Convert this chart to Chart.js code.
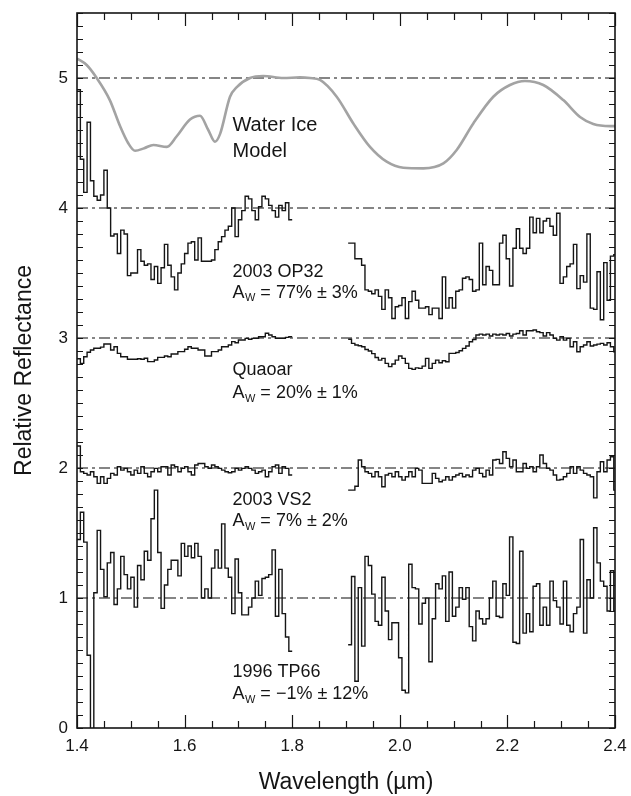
<!DOCTYPE html>
<html>
<head>
<meta charset="utf-8">
<script src="https://cdn.jsdelivr.net/npm/chart.js@4.4.1/dist/chart.umd.min.js"></script>
<style>
  html, body { margin: 0; padding: 0; background: #fff; }
</style>
</head>
<body>
<canvas id="spectra" width="631" height="796"></canvas>
<script>
// axis ticks
const xTickLabels = [1.4, 1.6, 1.8, 2.0, 2.2, 2.4];
const yTickLabels = [0, 1, 2, 3, 4, 5];
const continuumLevels = [1, 2, 3, 4, 5];

// spectra are binned at a fixed step; H band starts at 1.4, K band at 1.904
const BIN = 0.00625;
const H_START = 1.4;
const K_START = 1.904;

// water ice model (offset to 5)
const iceModelX = [1.4, 1.418, 1.4366, 1.461, 1.48, 1.495, 1.508, 1.525, 1.542, 1.567, 1.585, 1.61, 1.6286, 1.644, 1.6565, 1.666, 1.6844, 1.697, 1.7216, 1.746, 1.7835, 1.8145, 1.833, 1.8517, 1.8827, 1.9136, 1.9446, 1.9756, 2.0066, 2.0437, 2.081, 2.1057, 2.1366, 2.1738, 2.2048, 2.2327, 2.2667, 2.3039, 2.335, 2.3597, 2.3907, 2.4];
const iceModelY = [5.15, 5.10, 5.0, 4.83, 4.63, 4.50, 4.44, 4.46, 4.485, 4.47, 4.55, 4.68, 4.71, 4.60, 4.51, 4.57, 4.856, 4.93, 5.0, 5.015, 5.0, 5.005, 5.0, 4.985, 4.856, 4.65, 4.47, 4.356, 4.31, 4.305, 4.343, 4.446, 4.65, 4.856, 4.946, 4.977, 4.946, 4.83, 4.70, 4.646, 4.63, 4.63];

// 2003 OP32 (offset to 4)
const op32H = [
  4.91, 4.375, 4.12, 4.66, 4.21, 4.09, 4.06, 4.10, 4.29, 4.00,
  3.785, 3.80, 3.65, 3.83, 3.80, 3.48, 3.50, 3.50, 3.68, 3.59,
  3.56, 3.57, 3.45, 3.55, 3.42, 3.54, 3.72, 3.56, 3.47, 3.37,
  3.50, 3.57, 3.65, 3.73, 3.74, 3.60, 3.77, 3.59, 3.59, 3.59,
  3.60, 3.68, 3.74, 3.78, 3.83, 3.86, 4.00, 3.78, 3.91, 3.98,
  4.09, 4.07, 3.98, 3.91, 4.01, 4.09, 4.07, 4.02, 3.98, 3.93,
  4.02, 3.98, 4.04, 3.91
];
const op32K = [
  3.73, 3.73, 3.61, 3.61, 3.56, 3.37, 3.36, 3.34, 3.37, 3.32,
  3.22, 3.37, 3.31, 3.15, 3.24, 3.25, 3.31, 3.15, 3.28, 3.36,
  3.29, 3.23, 3.23, 3.24, 3.18, 3.23, 3.23, 3.15, 3.47, 3.23,
  3.31, 3.23, 3.36, 3.37, 3.46, 3.47, 3.45, 3.36, 3.37, 3.73,
  3.41, 3.55, 3.52, 3.41, 3.41, 3.73, 3.79, 3.61, 3.40, 3.69,
  3.84, 3.69, 3.65, 3.69, 3.93, 3.81, 3.92, 3.81, 3.90, 3.92,
  3.86, 3.79, 3.96, 3.42, 3.47, 3.55, 3.57, 3.72, 3.38, 3.48,
  3.43, 3.80, 3.23, 3.22, 3.51, 3.14, 3.58, 3.29, 3.63, 3.64
];

// Quaoar (offset to 3)
const quaoarH = [
  2.84, 2.805, 2.856, 2.89, 2.908, 2.921, 2.921, 2.93, 2.954, 2.954,
  2.908, 2.933, 2.882, 2.856, 2.856, 2.836, 2.836, 2.836, 2.84, 2.836,
  2.844, 2.818, 2.818, 2.831, 2.851, 2.851, 2.862, 2.856, 2.877, 2.877,
  2.895, 2.895, 2.913, 2.933, 2.921, 2.921, 2.908, 2.908, 2.862, 2.862,
  2.895, 2.895, 2.908, 2.933, 2.933, 2.946, 2.972, 2.964, 2.985, 2.985,
  2.997, 2.99, 2.997, 2.997, 3.01, 3.01, 3.036, 3.023, 3.01, 2.997,
  2.997, 2.997, 3.005, 3.01
];
const quaoarK = [
  2.99, 2.959, 2.946, 2.94, 2.933, 2.912, 2.90, 2.88, 2.85, 2.83,
  2.843, 2.805, 2.78, 2.80, 2.83, 2.861, 2.843, 2.805, 2.766, 2.759,
  2.77, 2.766, 2.784, 2.843, 2.766, 2.805, 2.83, 2.81, 2.825, 2.817,
  2.882, 2.882, 2.889, 2.902, 2.92, 2.938, 2.971, 2.989, 3.023, 3.03,
  3.023, 3.03, 3.015, 3.03, 3.023, 3.03, 3.023, 3.035, 3.015, 3.03,
  3.035, 3.056, 3.023, 3.056, 3.056, 3.061, 3.048, 3.041, 3.015, 3.041,
  3.023, 2.997, 2.984, 3.01, 2.984, 2.997, 2.933, 2.971, 2.894, 2.933,
  2.946, 2.971, 2.938, 2.946, 2.953, 2.959, 2.946, 2.964, 2.933, 2.894
];

// 2003 VS2 (offset to 2)
const vs2H = [
  2.169, 1.971, 1.959, 1.946, 1.971, 1.933, 1.882, 1.933, 1.882, 1.92,
  1.959, 1.946, 2.01, 1.984, 1.997, 1.971, 1.946, 1.984, 1.959, 2.01,
  1.959, 1.933, 1.971, 1.997, 1.971, 2.01, 2.01, 1.946, 2.023, 2.01,
  1.971, 1.997, 2.01, 1.971, 1.946, 2.023, 2.035, 2.035, 2.01, 1.997,
  2.023, 2.01, 1.997, 1.984, 1.971, 1.964, 1.971, 1.997, 1.984, 1.997,
  2.01, 1.997, 1.984, 1.959, 1.971, 1.984, 1.933, 1.971, 2.01, 2.023,
  1.959, 2.01, 1.997, 1.946
];
const vs2K = [
  1.83, 1.83, 1.86, 2.061, 2.01, 1.971, 1.959, 1.933, 1.971, 1.933,
  1.856, 1.946, 1.959, 1.933, 1.971, 1.933, 1.907, 1.933, 1.971, 1.933,
  1.997, 1.984, 1.882, 1.882, 1.882, 1.959, 1.92, 1.894, 1.907, 1.933,
  1.907, 1.933, 1.946, 1.959, 1.933, 1.946, 1.933, 1.984, 1.997, 1.959,
  1.933, 1.984, 1.946, 2.061, 2.066, 2.035, 2.125, 2.074, 2.01, 2.061,
  1.971, 1.971, 2.035, 1.997, 2.01, 1.971, 2.01, 2.1, 2.035, 1.997,
  1.984, 1.946, 1.907, 1.912, 1.933, 1.959, 2.01, 1.959, 2.01, 1.984,
  1.959, 1.946, 1.933, 1.77, 1.971, 2.048, 1.971, 2.061, 2.087, 1.83
];

// 1996 TP66 (offset to 1)
const tp66H = [
  1.45, 1.66, 1.43, 0.56, -0.4, 1.04, 1.52, 1.22, 1.01, 1.27,
  1.35, 0.95, 1.07, 1.32, 1.18, 1.07, 1.16, 0.93, 1.25, 1.14,
  1.36, 1.29, 1.61, 1.83, 1.35, 0.92, 1.10, 1.22, 1.29, 1.29,
  1.17, 1.42, 1.32, 1.40, 1.31, 1.42, 1.32, 1.00, 1.07, 1.00,
  1.23, 1.37, 1.23, 1.57, 1.23, 1.16, 0.88, 1.30, 1.04, 0.87,
  0.87, 0.93, 1.00, 1.13, 1.02, 1.15, 1.16, 1.18, 1.37, 0.86,
  1.22, 0.88, 0.70, 0.59
];
const tp66K = [
  0.64, 1.165, 0.36, 1.08, 0.63, 1.32, 1.25, 1.03, 0.82, 0.79,
  1.16, 0.90, 0.68, 0.81, 0.81, 0.54, 0.29, 0.27, 1.26, 1.08,
  1.07, 0.80, 0.96, 1.00, 0.51, 0.84, 1.11, 1.07, 1.17, 0.82,
  1.20, 0.86, 0.93, 1.08, 0.99, 1.08, 0.78, 0.67, 0.90, 0.84,
  0.80, 0.84, 1.00, 1.13, 0.86, 0.85, 1.11, 1.02, 1.47, 0.66,
  0.65, 1.36, 0.73, 0.88, 0.74, 1.09, 1.11, 0.79, 0.93, 0.79,
  1.13, 0.98, 0.93, 0.80, 1.13, 0.79, 0.74, 0.88, 0.93, 1.45,
  0.73, 1.14, 1.00, 1.54, 1.27, 1.13, 1.09, 0.90, 1.21, 0.90
];

const FONT = "'Liberation Sans', Arial, Helvetica, sans-serif";
const INK = '#151515';

// one point per bin start, plus a closing point at the end of the last bin
function binned(start, values) {
  const pts = values.map((v, i) => ({ x: start + i * BIN, y: v }));
  pts.push({ x: start + values.length * BIN, y: values[values.length - 1] });
  return pts;
}

// H and K bands with a gap between them
function spectrum(h, k) {
  return {
    data: binned(H_START, h).concat([{ x: 1.85, y: null }], binned(K_START, k)),
    borderColor: INK,
    borderWidth: 1.4,
    stepped: true,
    spanGaps: false,
    order: 1
  };
}

const datasets = [];

continuumLevels.forEach(level => {
  datasets.push({
    data: [{ x: 1.4, y: level }, { x: 2.4, y: level }],
    borderColor: '#858585',
    borderWidth: 2,
    borderDash: [11, 4, 3, 4],
    order: 3
  });
});

datasets.push({
  data: iceModelX.map((x, i) => ({ x, y: iceModelY[i] })),
  borderColor: '#a3a3a3',
  borderWidth: 2.6,
  cubicInterpolationMode: 'monotone',
  order: 2
});

datasets.push(spectrum(op32H, op32K));
datasets.push(spectrum(quaoarH, quaoarK));
datasets.push(spectrum(vs2H, vs2K));
datasets.push(spectrum(tp66H, tp66K));

// plot frame with inward ticks on all four sides
const frame = {
  id: 'frame',
  afterDraw(chart) {
    const { ctx, chartArea: a, scales: { x, y } } = chart;
    ctx.save();
    ctx.strokeStyle = INK;
    ctx.lineWidth = 1.2;
    ctx.beginPath();
    for (let k = 0; k <= 20; k++) {
      const px = Math.round(x.getPixelForValue(1.4 + k * 0.05)) + 0.5;
      const len = k % 4 === 0 ? 13 : 7;
      ctx.moveTo(px, a.bottom); ctx.lineTo(px, a.bottom - len);
      ctx.moveTo(px, a.top); ctx.lineTo(px, a.top + len);
    }
    for (let k = 0; k <= 55; k++) {
      const py = Math.round(y.getPixelForValue(k * 0.1)) + 0.5;
      ctx.moveTo(a.left, py); ctx.lineTo(a.left + 6, py);
      ctx.moveTo(a.right, py); ctx.lineTo(a.right - 6, py);
    }
    ctx.stroke();
    ctx.lineWidth = 1.6;
    ctx.strokeRect(a.left, a.top, a.right - a.left, a.bottom - a.top);
    ctx.restore();
  }
};

// object names and water-ice fractions, anchored in data units
const notes = [
  { x: 1.689, y: 4.595, size: 20, text: 'Water Ice' },
  { x: 1.689, y: 4.395, size: 20, text: 'Model' },
  { x: 1.689, y: 3.472, size: 18, text: '2003 OP32' },
  { x: 1.689, y: 3.31, size: 18, albedo: ' = 77% ± 3%' },
  { x: 1.689, y: 2.715, size: 18, text: 'Quaoar' },
  { x: 1.689, y: 2.536, size: 18, albedo: ' = 20% ± 1%' },
  { x: 1.689, y: 1.715, size: 18, text: '2003 VS2' },
  { x: 1.689, y: 1.554, size: 18, albedo: ' = 7% ± 2%' },
  { x: 1.689, y: 0.395, size: 18, text: '1996 TP66' },
  { x: 1.689, y: 0.22, size: 18, albedo: ' = \u22121% ± 12%' }
];

const labels = {
  id: 'labels',
  afterDatasetsDraw(chart) {
    const { ctx, scales: { x, y } } = chart;
    ctx.save();
    ctx.fillStyle = INK;
    ctx.textBaseline = 'alphabetic';
    notes.forEach(n => {
      let px = x.getPixelForValue(n.x);
      const py = y.getPixelForValue(n.y);
      ctx.font = `${n.size}px ${FONT}`;
      if (n.text) {
        ctx.fillText(n.text, px, py);
        return;
      }
      ctx.fillText('A', px, py);
      px += ctx.measureText('A').width + 0.5;
      const sub = Math.round(n.size * 0.62);
      ctx.font = `${sub}px ${FONT}`;
      ctx.fillText('W', px, py + n.size * 0.2);
      px += ctx.measureText('W').width;
      ctx.font = `${n.size}px ${FONT}`;
      ctx.fillText(n.albedo, px, py);
    });
    ctx.restore();
  }
};

new Chart(document.getElementById('spectra'), {
  type: 'line',
  data: { datasets },
  options: {
    responsive: false,
    animation: false,
    events: [],
    elements: { point: { radius: 0, hoverRadius: 0, hitRadius: 0, borderWidth: 0, hoverBorderWidth: 0 } },
    layout: { autoPadding: false, padding: { top: 13, right: 16, bottom: 0, left: 0 } },
    plugins: { legend: { display: false }, tooltip: { enabled: false } },
    scales: {
      x: {
        type: 'linear',
        min: 1.4,
        max: 2.4,
        afterFit: s => {
          s.height = 68;
          s.paddingLeft = 0;
          s.paddingRight = 0;
        },
        afterBuildTicks: s => { s.ticks = xTickLabels.map(v => ({ value: v })); },
        grid: { display: false, drawTicks: false },
        border: { display: false },
        ticks: {
          padding: 8,
          color: INK,
          maxRotation: 0,
          autoSkip: false,
          font: { family: FONT, size: 17 },
          callback: v => v.toFixed(1)
        },
        title: {
          display: true,
          text: 'Wavelength (µm)',
          color: INK,
          font: { family: FONT, size: 23 },
          padding: { top: 0, bottom: 0 }
        }
      },
      y: {
        type: 'linear',
        min: 0,
        max: 5.5,
        afterFit: s => {
          s.width = 77;
          s.paddingTop = 0;
          s.paddingBottom = 0;
        },
        afterBuildTicks: s => { s.ticks = yTickLabels.map(v => ({ value: v })); },
        grid: { display: false, drawTicks: false },
        border: { display: false },
        ticks: {
          padding: 9,
          color: INK,
          autoSkip: false,
          font: { family: FONT, size: 17 },
          callback: v => String(v)
        },
        title: {
          display: true,
          text: 'Relative Reflectance',
          color: INK,
          font: { family: FONT, size: 23 },
          padding: { top: 11, bottom: 0 }
        }
      }
    }
  },
  plugins: [frame, labels]
});
</script>
</body>
</html>
